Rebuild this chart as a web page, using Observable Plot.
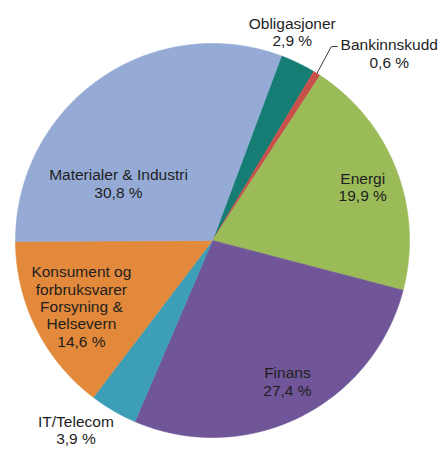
<!DOCTYPE html>
<html><head><meta charset="utf-8">
<script src="https://cdn.jsdelivr.net/npm/d3@7"></script>
<script src="https://cdn.jsdelivr.net/npm/@observablehq/plot@0.6"></script>
<style>body{margin:0;background:#fff;}</style>
</head><body><div id="chart"></div>
<script>
// ---- data ----
const categories = ["Obligasjoner", "Bankinnskudd", "Energi", "Finans", "IT/Telecom",
  "Konsument og\nforbruksvarer\nForsyning &\nHelsevern", "Materialer & Industri"];
const shares = [2.9, 0.6, 19.9, 27.4, 3.9, 14.6, 30.8];
const valueLabels = ["2,9 %", "0,6 %", "19,9 %", "27,4 %", "3,9 %", "14,6 %", "30,8 %"];

// ---- style / layout ----
const colors = ["#167d74", "#c8504a", "#9bbb59", "#705698", "#3d9fb7", "#e2893b", "#95abd6"];
const R = 197;            // pie radius (px)
const startAngle = 20.5;  // degrees clockwise from 12 o'clock
const labelLayout = [     // [angle deg, radius fraction]
  [20.9, 1.135], [43.4, 1.306], [70.3, 0.81], [152, 0.81], [215.8, 1.185], [243.3, 0.745], [301.2, 0.558]
];

const total = d3.sum(shares);
const rad = a => a * Math.PI / 180;
const px = (a, r) => [r * Math.sin(rad(a)), -r * Math.cos(rad(a))];

// slice polygons
const polys = [];
let acc = startAngle;
const mids = [];
categories.forEach((c, i) => {
  const span = shares[i] / total * 360;
  const a0 = acc, a1 = acc + span;
  mids.push((a0 + a1) / 2);
  polys.push({cat: c, x: 0, y: 0});
  const n = Math.max(2, Math.ceil(span / 0.5));
  for (let k = 0; k <= n; k++) {
    const [x, y] = px(a0 + (a1 - a0) * k / n, R);
    polys.push({cat: c, x, y});
  }
  polys.push({cat: c, x: 0, y: 0});
  acc = a1;
});

const labels = categories.map((c, i) => {
  const [x, y] = px(labelLayout[i][0], labelLayout[i][1] * R);
  return {x, y, text: c + "\n" + valueLabels[i]};
});

// leader for Bankinnskudd
const bi = 1;
const [lx0, ly0] = px(mids[bi], R);
const leader = [
  {x: lx0, y: ly0},
  {x: labels[bi].x - 58, y: labels[bi].y - 7},
  {x: labels[bi].x - 52, y: labels[bi].y - 7}
];

const chart = Plot.plot({
  width: 444, height: 450,
  margin: 0,
  x: {domain: [-212, 232], range: [0, 444], axis: null},
  y: {domain: [-240, 210], range: [0, 450], axis: null},
  color: {domain: categories, range: colors},
  style: {fontFamily: "'Liberation Sans', Arial, sans-serif", background: "#fff"},
  marks: [
    Plot.line(polys, {x: "x", y: "y", z: "cat", fill: "cat", stroke: "cat", strokeWidth: 0.6}),
    Plot.line(leader, {x: "x", y: "y", stroke: "#3a3a3a", strokeWidth: 1}),
    Plot.text(labels, {x: "x", y: "y", text: "text", fontSize: 15.5, lineHeight: 1.12, fill: "#1e1e1e"})
  ]
});
document.getElementById("chart").append(chart);
</script>
</body></html>
